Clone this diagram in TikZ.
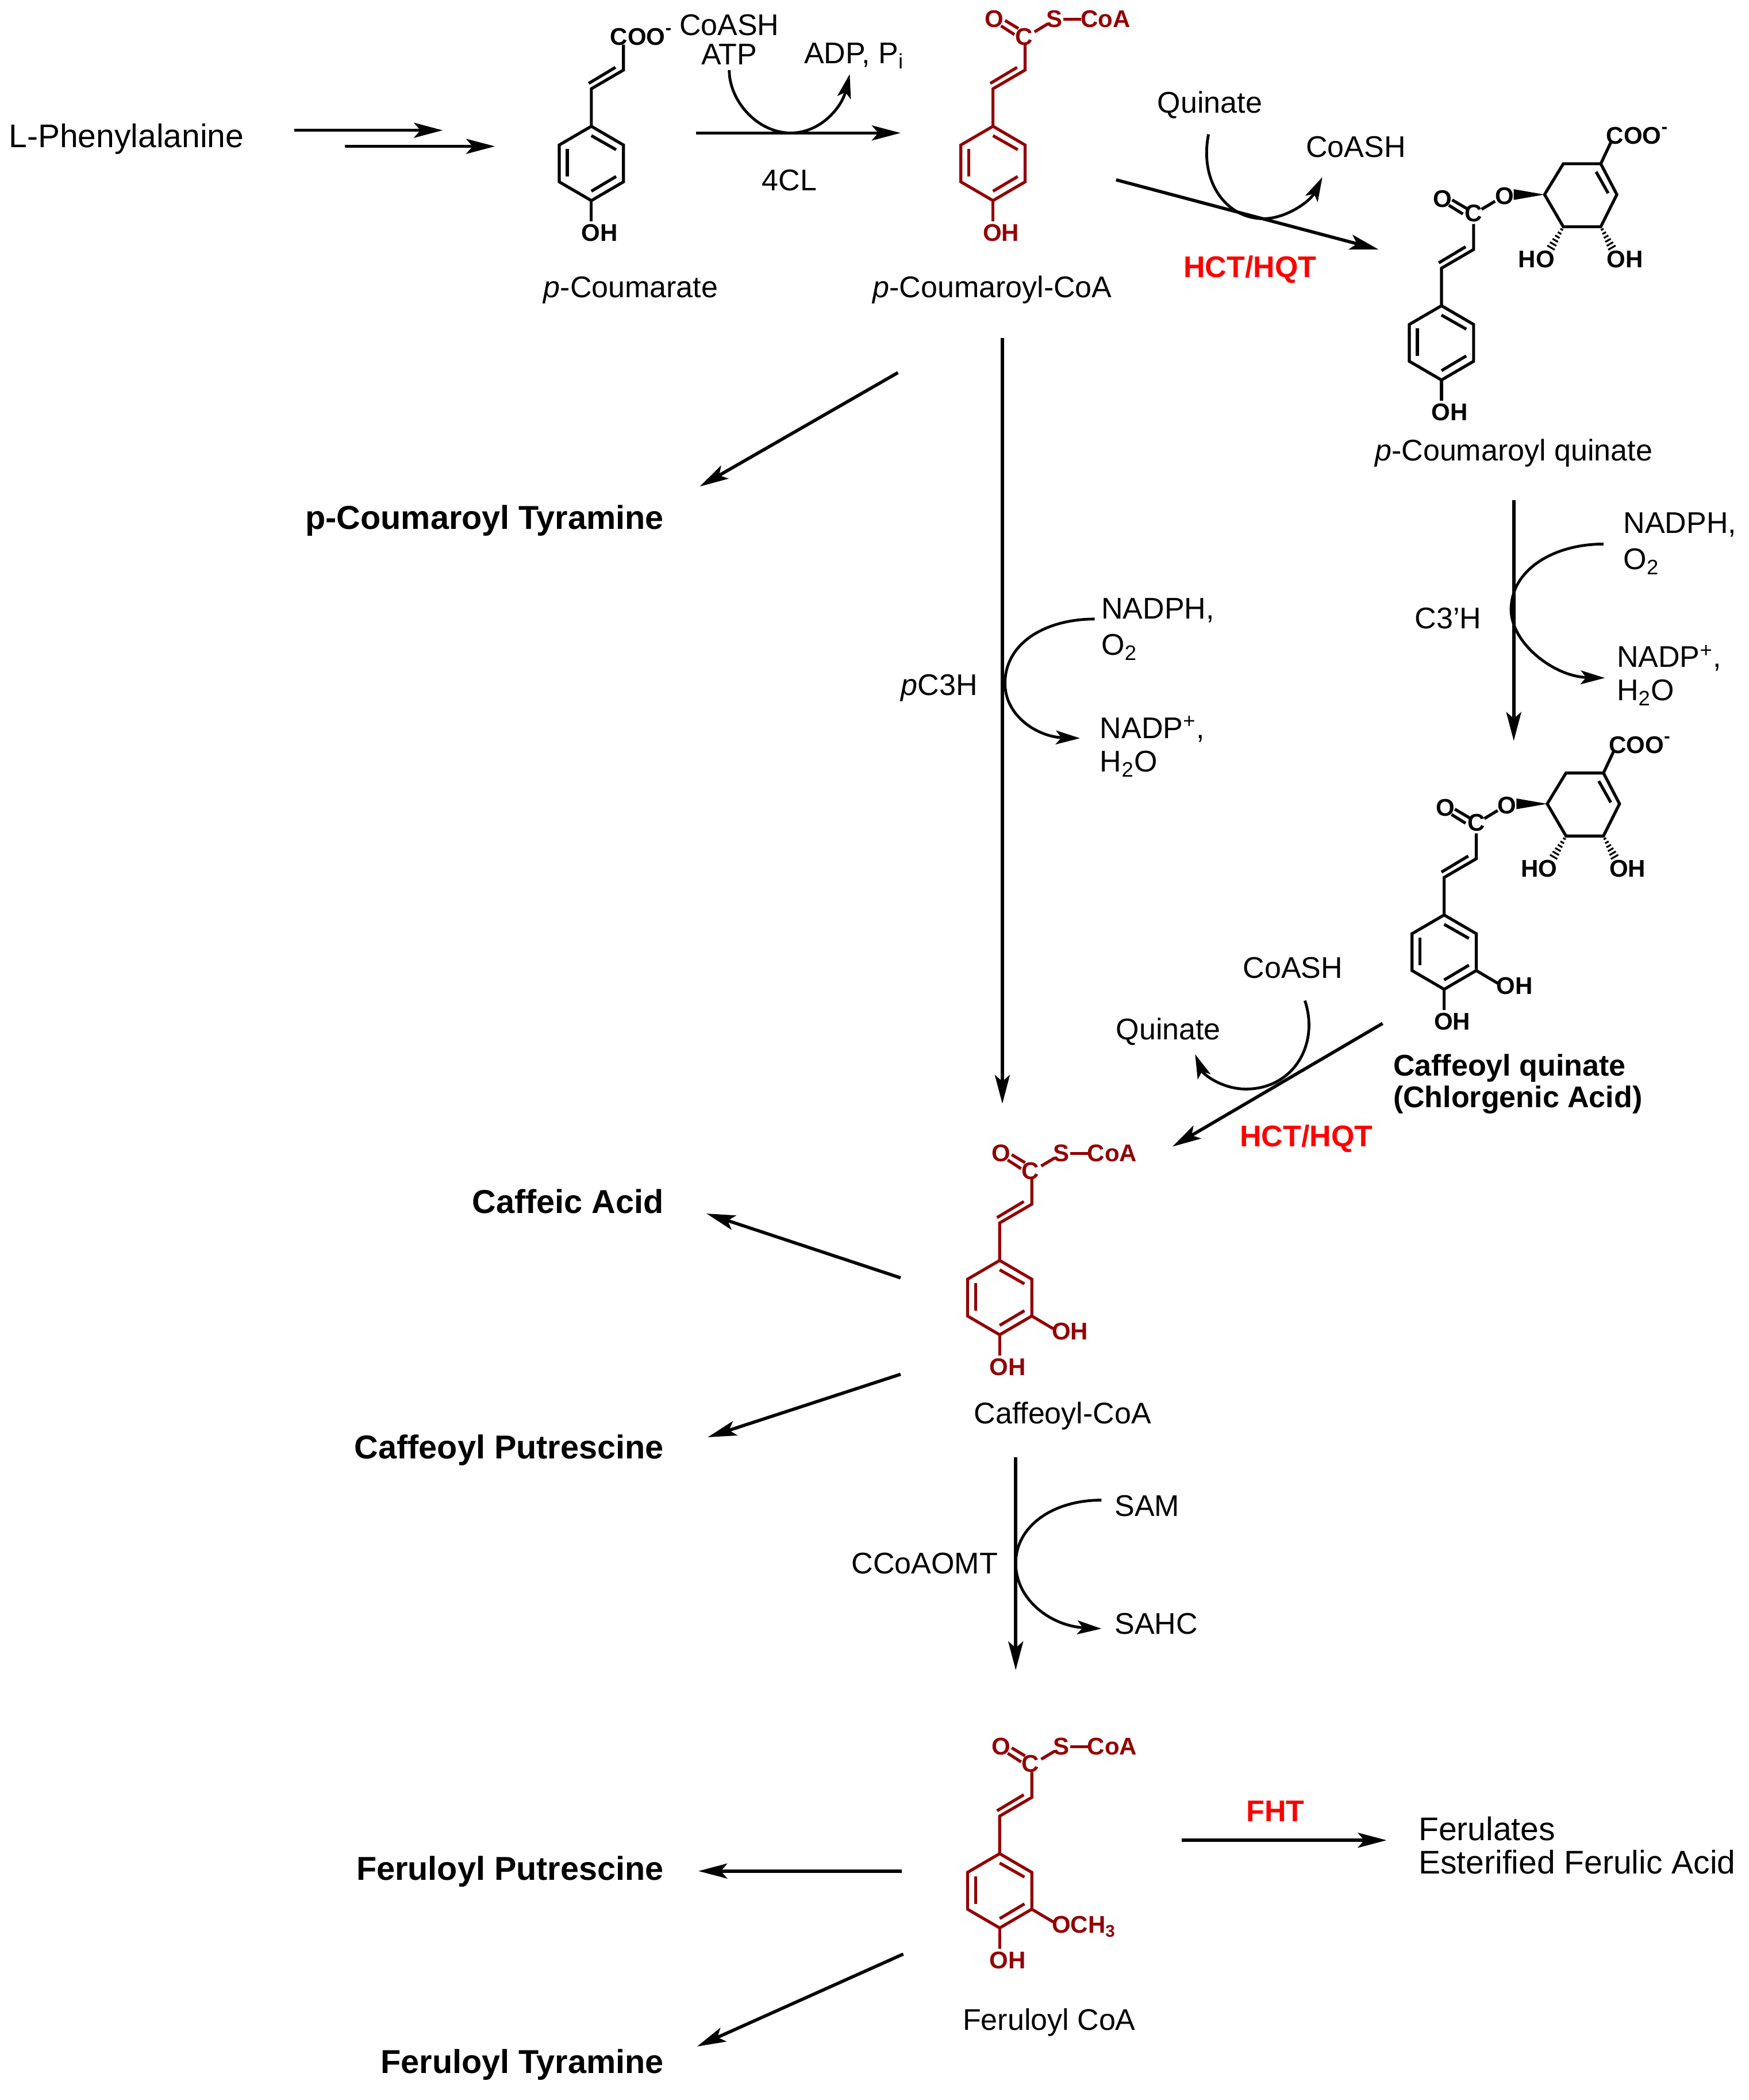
\documentclass[tikz,border=0pt]{standalone}
\usepackage{fontspec}
\setmainfont{Liberation Sans}
\usetikzlibrary{arrows.meta}
\definecolor{molred}{HTML}{920000}
\definecolor{enzred}{HTML}{FF0000}
\tikzset{
  txt/.style={inner sep=0pt,outer sep=0pt,anchor=mid,yshift=-2pt,font=\fontsize{13}{15}\selectfont},
  txtl/.style={txt,font=\fontsize{14.25}{16}\selectfont},
  txtb/.style={txt,font=\fontsize{14.4}{16}\selectfont\bfseries},
  txts/.style={txt,font=\fontsize{13}{15}\selectfont\bfseries},
  enz/.style={txt,text=enzred,font=\fontsize{13}{15}\selectfont\bfseries},
  atom/.style={inner sep=0pt,outer sep=0pt,anchor=mid,yshift=-1pt,font=\fontsize{10.5}{12}\selectfont\bfseries},
  bond/.style={line width=1.3pt,line join=miter,line cap=butt},
  mainarrow/.style={line width=1.4pt,-{Stealth[length=12.5pt,width=6.5pt,inset=2.8pt]}},
  curvearrow/.style={line width=1.2pt,-{Stealth[length=10.5pt,width=6pt,inset=2.4pt]}}
}
% ring + trans-vinyl, origin at the top ring atom
\newcommand{\cinnamyl}[3]{%
  \begin{scope}[shift={(#1,#2)},draw=#3,bond]
    \draw[bond] (0,0) -- (24,14) -- (24,41.5) -- (0,55.5) -- (-24,41.5) -- (-24,14) -- cycle;
    \draw[bond] (0,7) -- (18.5,17.5);
    \draw[bond] (-18,17) -- (-18,37.5);
    \draw[bond] (0,48.5) -- (18.5,37.5);
    \draw[bond] (0,0) -- (0,-28) -- (24,-42) -- (24,-61);
    \draw[bond] (-2,-32) -- (18,-44);
  \end{scope}}
% para OH
\newcommand{\paraoh}[4]{%
  \begin{scope}[shift={(#2,#3)},draw=#4,text=#4]
    \draw[bond] (0,55.5) -- (0,71);
    \node[atom] (#1oh) at (6,79.5) {OH};
  \end{scope}}
% meta substituent
\newcommand{\metasub}[5]{%
  \begin{scope}[shift={(#2,#3)},draw=#4,text=#4]
    \draw[bond] (24,41.5) -- (40,51);
    \node[atom,anchor=mid west] (#1m) at (39,53) {#5};
  \end{scope}}
% thioester group
\newcommand{\thioester}[4]{%
  \begin{scope}[shift={(#2,#3)},draw=#4,text=#4]
    \node[atom] (#1c) at (23,-67) {C};
    \node[atom] (#1o) at (1,-80) {O};
    \node[atom] (#1s) at (46,-80) {S};
    \node[atom] (#1coa) at (84,-80) {CoA};
    \draw[bond] (6,-75) -- (16,-68.5);
    \draw[bond] (9,-79) -- (19,-73);
    \draw[bond] (31,-70.5) -- (41,-76.5);
    \draw[bond] (52.5,-80) -- (66,-80);
  \end{scope}}
% quinate ester group, origin at the top atom of the aromatic ring
\newcommand{\quinester}[3]{%
  \begin{scope}[shift={(#2,#3)}]
    \node[atom] (#1c) at (24,-69) {C};
    \node[atom] (#1o) at (1,-80) {O};
    \node[atom] (#1e) at (47,-82) {O};
    \node[atom] (#1coo) at (146,-127) {COO\raisebox{.45em}{\fontsize{8}{8}\selectfont -}};
    \node[atom] (#1ho) at (71,-34.5) {HO};
    \node[atom] (#1hr) at (137,-34.5) {OH};
    \draw[bond] (8,-79) -- (19,-72.5);
    \draw[bond] (5.5,-75) -- (16,-68.5);
    \draw[bond] (30,-72) -- (40,-78);
    \fill (77,-83) -- (54,-87) -- (54,-79) -- cycle;
    \draw[bond] (77,-83) -- (91,-106) -- (119,-106) -- (131,-83) -- (119,-59) -- (91,-59) -- cycle;
    \draw[bond] (115.5,-100) -- (124.5,-84);
    \draw[bond] (119,-106) -- (126.5,-122);
    \foreach \t in {0.12,0.28,0.44,0.60,0.76,0.92}{
      \pgfmathsetmacro{\h}{0.8+2.6*\t}
      \pgfmathsetmacro{\ax}{91-10*\t} \pgfmathsetmacro{\ay}{-59+17*\t}
      \pgfmathsetmacro{\bx}{119+9*\t} \pgfmathsetmacro{\by}{-59+17*\t}
      \draw[line width=.8pt] (\ax-.86*\h,\ay-.5*\h) -- (\ax+.86*\h,\ay+.5*\h);
      \draw[line width=.8pt] (\bx-.86*\h,\by+.5*\h) -- (\bx+.86*\h,\by-.5*\h);
    }
  \end{scope}}
\begin{document}
\begin{tikzpicture}[x=0.5823pt,y=-0.5823pt]
\path[fill=white,use as bounding box] (-0.7,-0.3) rectangle (1305.3,1568);

% --- molecules
\cinnamyl{441}{94}{black}
\paraoh{pa}{441}{94}{black}
\node[atom] (pacoo) at (478,27) {COO\raisebox{.45em}{\fontsize{8}{8}\selectfont -}};

\cinnamyl{741}{94}{molred}
\paraoh{pb}{741}{94}{molred}
\thioester{pb}{741}{94}{molred}

\cinnamyl{1076}{228}{black}
\paraoh{qa}{1076}{228}{black}
\quinester{qa}{1076}{228}{black}

\cinnamyl{1078}{683}{black}
\paraoh{qb}{1078}{683}{black}
\metasub{qb}{1078}{683}{black}{OH}
\quinester{qb}{1078}{683}{black}

\cinnamyl{746}{941}{molred}
\paraoh{ca}{746}{941}{molred}
\metasub{ca}{746}{941}{molred}{OH}
\thioester{ca}{746}{941}{molred}

\cinnamyl{746}{1384}{molred}
\paraoh{fe}{746}{1384}{molred}
\metasub{fe}{746}{1384}{molred}{OCH\textsubscript{3}}
\thioester{fe}{746}{1384}{molred}

% --- texts
\node[txtl,anchor=mid west] (phe) at (6,102) {L-Phenylalanine};
\node[txt] (coash1) at (544,18) {CoASH};
\node[txt] (atp) at (544,40) {ATP};
\node[txt,anchor=mid west] (adp) at (600,39) {ADP, P\textsubscript{i}};
\node[txt] (cl) at (589,134) {4CL};
\node[txt] (pcou) at (470.5,214) {\textit{p}-Coumarate};
\node[txt] (pcoa) at (740.5,214) {\textit{p}-Coumaroyl-CoA};
\node[txt] (quin1) at (903,76) {Quinate};
\node[txt] (coash2) at (1012,109) {CoASH};
\node[enz] (hct1) at (933,199) {HCT/HQT};
\node[txt] (pquin) at (1130,336) {\textit{p}-Coumaroyl quinate};
\node[txtb,anchor=mid east] (ptyr) at (495,387) {p-Coumaroyl Tyramine};
\node[txt,anchor=mid west] (nadph1) at (1212,390) {NADPH,};
\node[txt,anchor=mid west] (o21) at (1212,417) {O\textsubscript{2}};
\node[txt,anchor=mid west] (nadp1) at (1207,490) {NADP\textsuperscript{+},};
\node[txt,anchor=mid west] (h2o1) at (1207,515) {H\textsubscript{2}O};
\node[txt] (c3h) at (1081,461) {C3’H};
\node[txt,anchor=mid west] (nadph2) at (822,454) {NADPH,};
\node[txt,anchor=mid west] (o22) at (822,481) {O\textsubscript{2}};
\node[txt,anchor=mid west] (nadp2) at (821,543) {NADP\textsuperscript{+},};
\node[txt,anchor=mid west] (h2o2) at (821,568) {H\textsubscript{2}O};
\node[txt] (pc3h) at (701,511) {\textit{p}C3H};
\node[txts,anchor=mid west] (cq1) at (1040,795) {Caffeoyl quinate};
\node[txts,anchor=mid west] (cq2) at (1040,819) {(Chlorgenic Acid)};
\node[txt] (coash3) at (965,722) {CoASH};
\node[txt] (quin2) at (872,768) {Quinate};
\node[enz] (hct2) at (975,848) {HCT/HQT};
\node[txtb,anchor=mid east] (cafa) at (495,898) {Caffeic Acid};
\node[txtb,anchor=mid east] (cafp) at (495,1081) {Caffeoyl Putrescine};
\node[txt] (cafc) at (793,1055) {Caffeoyl-CoA};
\node[txt] (ccoa) at (690,1167) {CCoAOMT};
\node[txt,anchor=mid west] (sam) at (832,1124) {SAM};
\node[txt,anchor=mid west] (sahc) at (832,1212) {SAHC};
\node[txtb,anchor=mid east] (ferp) at (495,1396) {Feruloyl Putrescine};
\node[txtb,anchor=mid east] (fert) at (495,1540) {Feruloyl Tyramine};
\node[txt] (ferc) at (783,1508) {Feruloyl CoA};
\node[enz] (fht) at (952,1352) {FHT};
\node[txtl,anchor=mid west] (ferl) at (1059,1366) {Ferulates};
\node[txtl,anchor=mid west] (este) at (1059,1391) {Esterified Ferulic Acid};

% --- connector ends
\coordinate (a1) at (219,97);   \coordinate (a2) at (330,97);
\coordinate (b1) at (257,109);  \coordinate (b2) at (369,109);
\coordinate (c1) at (519,99);   \coordinate (c2) at (672,99);
\coordinate (d1) at (833,134);  \coordinate (d2) at (1029,186);
\coordinate (e1) at (670,278);  \coordinate (e2) at (522,363);
\coordinate (f1) at (748,252);  \coordinate (f2) at (748,824);
\coordinate (g1) at (1130,373); \coordinate (g2) at (1130,553);
\coordinate (h1) at (1032,764); \coordinate (h2) at (875,856);
\coordinate (i1) at (672,954);  \coordinate (i2) at (527,906);
\coordinate (j1) at (672,1026); \coordinate (j2) at (528,1073);
\coordinate (k1) at (758,1088); \coordinate (k2) at (758,1247);
\coordinate (l1) at (673,1397); \coordinate (l2) at (521,1397);
\coordinate (m1) at (674,1459); \coordinate (m2) at (520,1528);
\coordinate (n1) at (882,1374); \coordinate (n2) at (1035,1374);
\coordinate (ca1) at (544,52);  \coordinate (ca2) at (590,99);  \coordinate (ca3) at (634,55);
\coordinate (cb1) at (902,100); \coordinate (cb2) at (943,163); \coordinate (cb3) at (987,132);
\coordinate (cc1) at (817,462); \coordinate (cc2) at (750,510); \coordinate (cc3) at (806,551);
\coordinate (cd1) at (1197,406);\coordinate (cd2) at (1128,455);\coordinate (cd3) at (1198,506);
\coordinate (ce1) at (974,747); \coordinate (ce2) at (930,813); \coordinate (ce3) at (892,787);
\coordinate (cf1) at (822,1120);\coordinate (cf2) at (758,1167);\coordinate (cf3) at (832,1216);

% --- straight arrows
\foreach \s/\e in {a1/a2,b1/b2,c1/c2,d1/d2,e1/e2,f1/f2,g1/g2,h1/h2,i1/i2,j1/j2,k1/k2,l1/l2,m1/m2,n1/n2}
  \draw[mainarrow] (\s) -- (\e);

% --- curved arrows
\draw[curvearrow] (ca1) .. controls (544,75) and (565,99) .. (ca2) .. controls (612,99) and (628,80) .. (ca3);
\draw[curvearrow] (cb1) .. controls (895,135) and (915,163) .. (cb2) .. controls (960,163) and (978,150) .. (cb3);
\draw[curvearrow] (cc1) .. controls (780,462) and (750,480) .. (cc2) .. controls (750,535) and (775,550) .. (cc3);
\draw[curvearrow] (cd1) .. controls (1160,406) and (1128,425) .. (cd2) .. controls (1128,480) and (1160,505) .. (cd3);
\draw[curvearrow] (ce1) .. controls (985,780) and (965,813) .. (ce2) .. controls (912,813) and (898,802) .. (ce3);
\draw[curvearrow] (cf1) .. controls (785,1120) and (758,1140) .. (cf2) .. controls (758,1195) and (785,1214) .. (822,1216);
\end{tikzpicture}
\end{document}
